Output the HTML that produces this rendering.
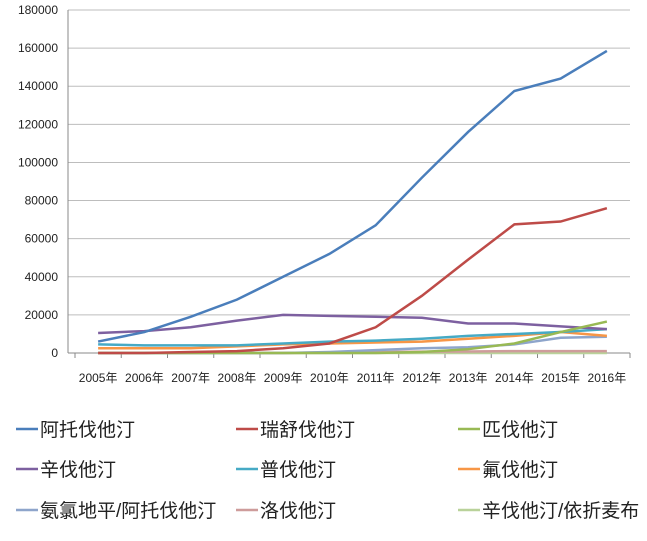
<!DOCTYPE html>
<html><head><meta charset="utf-8"><style>
body{margin:0;background:#fff;width:647px;height:536px;overflow:hidden;font-family:"Liberation Sans","Noto Sans CJK SC",sans-serif}
</style></head><body>
<svg id="chart" width="647" height="536"></svg>
<script>
const categories=["2005年","2006年","2007年","2008年","2009年","2010年","2011年","2012年","2013年","2014年","2015年","2016年"];
const yTicks=[0,20000,40000,60000,80000,100000,120000,140000,160000,180000];
const seriesNames=["阿托伐他汀","瑞舒伐他汀","匹伐他汀","辛伐他汀","普伐他汀","氟伐他汀","氨氯地平/阿托伐他汀","洛伐他汀","辛伐他汀/依折麦布"];
const colors=["#4A7EBB","#BE4B48","#98B954","#7D60A0","#46AAC5","#F79646","#8EA5CB","#CE9C9B","#B9D29A"];
const s0=[6000,11000,19000,28000,40000,52000,67000,92000,116000,137500,144000,158500];
const s1=[0,0,500,1000,2500,5000,13500,30000,49000,67500,69000,76000];
const s2=[0,0,0,0,0,0,0,500,2000,5000,11000,16500];
const s3=[10500,11500,13500,17000,20000,19500,19000,18500,15500,15500,14000,12500];
const s4=[4500,4000,4000,4000,5000,6000,6500,7500,9000,10000,11000,12500];
const s5=[2500,2500,2500,3500,4500,5000,5500,6000,7500,9000,11000,9000];
const s6=[0,0,0,0,0,500,1500,2500,3000,4500,8000,8500];
const s7=[0,0,0,0,0,300,500,700,800,1000,1000,1000];
const s8=[0,0,0,0,0,0,0,0,0,0,0,0];
const series=[s0,s1,s2,s3,s4,s5,s6,s7,s8];
const NS="http://www.w3.org/2000/svg";
const svg=document.getElementById('chart');
const L=68,R=630,T=10,B=353,ymax=180000;
const cw=(R-75)/categories.length;
const x=i=>75+cw*(i+0.5);
const y=v=>B-(v/ymax)*(B-T);
function mk(t,a){const e=document.createElementNS(NS,t);for(const k in a)e.setAttribute(k,a[k]);svg.appendChild(e);return e;}
yTicks.forEach(v=>{
 if(v>0){const g=mk('line',{x1:L,x2:R,y1:y(v),y2:y(v),stroke:'#BDBDBD','stroke-width':1});
 
 }
 const t=mk('text',{x:L-10,y:y(v)+4,'text-anchor':'end','font-size':12,fill:'#222'});
 t.textContent=v;
 
 
});
const ya=mk('line',{x1:L,x2:L,y1:T,y2:B,stroke:'#888'});


const xa=mk('line',{x1:L,x2:R,y1:B,y2:B,stroke:'#888'});


for(let i=0;i<=categories.length;i++){const tk=mk('line',{x1:75+cw*i,x2:75+cw*i,y1:B,y2:B+5,stroke:'#888'});
 
 }
categories.forEach((c,i)=>{const t=mk('text',{x:x(i),y:382,'text-anchor':'middle','font-size':12,fill:'#222'});
 t.textContent=c;
 
 });
for(let k=series.length-1;k>=0;k--){
 const p=mk('polyline',{points:series[k].map((v,i)=>x(i)+','+y(v)).join(' '),fill:'none',stroke:colors[k],'stroke-width':2.5});
 
 
}
const lx=[16,236,458],ly=[429,469,510];
seriesNames.forEach((n,k)=>{
 const cx=lx[k%3],cy=ly[Math.floor(k/3)];
 const l=mk('line',{x1:cx,x2:cx+22,y1:cy,y2:cy,stroke:colors[k],'stroke-width':2.5});
 
 
 const t=mk('text',{x:cx+24,y:cy+7,'font-size':19,fill:'#222'});
 t.textContent=n;
 
 
});
</script>
</body></html>
